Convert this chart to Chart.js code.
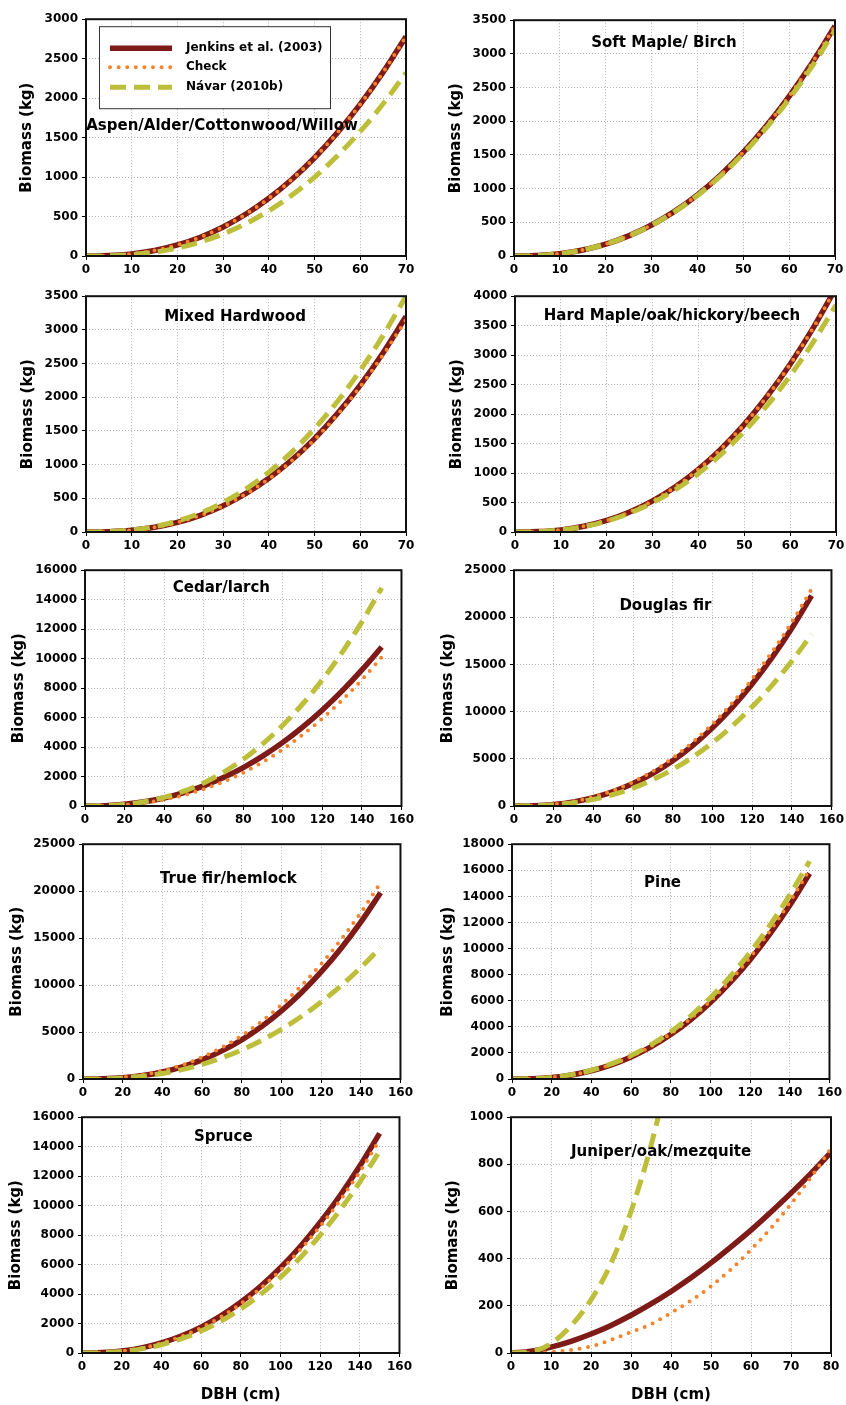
<!DOCTYPE html>
<html>
<head>
<meta charset="utf-8">
<script src="https://cdn.jsdelivr.net/npm/chart.js@4.4.1/dist/chart.umd.min.js"></script>
<style>
  body { margin: 0; background: #fff; width: 846px; height: 1405px; position: relative; overflow: hidden; }
  canvas { position: absolute; }
</style>
</head>
<body>
<script>
// DBH (cm) sample points
const dbhSmall = [0, 5, 10, 15, 20, 25, 30, 35, 40, 45, 50, 55, 60, 65, 70];
const dbhLarge = [0, 10, 20, 30, 40, 50, 60, 70, 80, 90, 100, 110, 120, 130, 140, 150];
const dbhJuniper = [0, 5, 10, 15, 20, 25, 30, 35, 40, 45, 50, 55, 60, 65, 70, 75, 80];
const dbhJuniperNavar = [0, 5, 10, 15, 20, 25, 30, 35, 40];

const seriesLabels = ['Jenkins et al. (2003)', 'Check', 'Návar (2010b)'];

// Biomass (kg)
const aspenJenkins = [0, 5.1, 26.7, 70.3, 139.8, 238, 368, 532, 731, 969, 1245, 1563, 1924, 2329, 2780];
const aspenCheck   = [0, 5.1, 26.7, 70.3, 139.8, 238, 368, 532, 731, 969, 1245, 1563, 1924, 2329, 2780];
const aspenNavar   = [0, 3.2, 17.9, 49, 101, 177, 279, 410, 573, 769, 1000, 1270, 1578, 1928, 2320];

const softJenkins = [0, 6.6, 34.2, 89.3, 176, 299, 460, 662, 908, 1200, 1540, 1929, 2370, 2864, 3413];
const softCheck   = [0, 6.6, 34.2, 89.3, 176, 299, 460, 662, 908, 1200, 1540, 1929, 2370, 2864, 3413];
const softNavar   = [0, 6.8, 34.6, 89.7, 176, 298, 457, 657, 899, 1186, 1519, 1900, 2332, 2815, 3350];

const mixedJenkins = [0, 4.6, 25.5, 69.8, 142.6, 248, 390, 572, 797, 1068, 1387, 1758, 2181, 2662, 3199];
const mixedCheck   = [0, 4.6, 25.4, 69.5, 142, 246, 387, 567, 789, 1055, 1372, 1740, 2158, 2630, 3150];
const mixedNavar   = [0, 5.4, 29.8, 80, 163, 281, 439, 641, 889, 1186, 1535, 1938, 2399, 2919, 3500];

const hardJenkins = [0, 6.7, 36.3, 97.4, 196, 338, 527, 766, 1061, 1413, 1826, 2303, 2846, 3458, 4142];
const hardCheck   = [0, 6.7, 36.3, 97.4, 196, 338, 527, 766, 1061, 1413, 1826, 2303, 2846, 3458, 4142];
const hardNavar   = [0, 6.5, 34.7, 92.6, 186, 319, 496, 720, 994, 1322, 1706, 2148, 2651, 3218, 3850];

const cedarJenkins = [0, 23.8, 114, 284, 545, 902, 1362, 1928, 2608, 3403, 4317, 5354, 6518, 7809, 9233, 10790];
const cedarCheck   = [0, 16, 84, 219, 435, 739, 1141, 1646, 2262, 2995, 3848, 4827, 5939, 7184, 8571, 10100];
const cedarNavar   = [0, 19.4, 106, 287, 580, 1003, 1568, 2288, 3173, 4234, 5481, 6922, 8568, 10424, 12497, 14800];

const douglasJenkins = [0, 29.8, 162, 437, 883, 1523, 2378, 3465, 4801, 6405, 8284, 10454, 12935, 15726, 18848, 22310];
const douglasCheck   = [0, 34.6, 183, 483, 964, 1647, 2551, 3694, 5088, 6751, 8692, 10925, 13464, 16316, 19490, 23000];
const douglasNavar   = [0, 23.3, 128, 347, 705, 1220, 1903, 2792, 3877, 5179, 6712, 8485, 10512, 12800, 15359, 18200];

const firJenkins = [0, 23.9, 134, 366, 746, 1298, 2041, 2993, 4169, 5582, 7250, 9185, 11400, 13903, 16709, 19830];
const firCheck   = [0, 31.4, 166, 439, 876, 1496, 2318, 3357, 4623, 6134, 7898, 9928, 12235, 14826, 17711, 20900];
const firNavar   = [0, 21.1, 111, 294, 587, 1002, 1553, 2248, 3097, 4109, 5291, 6650, 8196, 9932, 11864, 14000];

const pineJenkins = [0, 21.5, 117, 313, 630, 1085, 1692, 2462, 3408, 4541, 5869, 7401, 9149, 11116, 13315, 15750];
const pineCheck   = [0, 21.9, 119, 319, 643, 1107, 1726, 2511, 3476, 4632, 5986, 7549, 9332, 11338, 13581, 16065];
const pineNavar   = [0, 23.2, 125, 334, 673, 1157, 1802, 2621, 3625, 4827, 6234, 7859, 9711, 11795, 14122, 16700];

const spruceJenkins = [0, 26.9, 136, 349, 683, 1149, 1758, 2520, 3439, 4527, 5787, 7228, 8855, 10671, 12686, 14900];
const spruceCheck   = [0, 26.1, 132, 339, 663, 1115, 1705, 2444, 3336, 4391, 5613, 7011, 8589, 10351, 12305, 14450];
const spruceNavar   = [0, 19.5, 105, 279, 559, 960, 1492, 2166, 2992, 3980, 5135, 6466, 7984, 9690, 11593, 13700];

const juniperJenkins = [0, 7.6, 24.7, 49.2, 80.3, 117, 160, 208, 261, 319, 382, 450, 521, 598, 678, 762, 851];
const juniperCheck   = [0, 0, 4, 13, 28, 56, 89, 122, 170, 222, 283, 355, 438, 530, 632, 745, 868];
const juniperNavar   = [0, 5, 40, 115, 225, 380, 600, 880, 1230];

// panel layout: plot box [left, top, right, bottom] in page px, y-title centre x, title position as fraction of plot
const panels = [
  { title: 'Aspen/Alder/Cottonwood/Willow', x: dbhSmall, jen: aspenJenkins, chk: aspenCheck, nav: aspenNavar,
    xMax: 70, xStep: 10, yMax: 3000, yStep: 500, box: [86, 18, 406, 256], yTitleX: 27, tPos: [0.425, 0.45], legend: true },
  { title: 'Soft Maple/ Birch', x: dbhSmall, jen: softJenkins, chk: softCheck, nav: softNavar,
    xMax: 70, xStep: 10, yMax: 3500, yStep: 500, box: [514, 19, 835, 256], yTitleX: 456, tPos: [0.467, 0.097] },
  { title: 'Mixed Hardwood', x: dbhSmall, jen: mixedJenkins, chk: mixedCheck, nav: mixedNavar,
    xMax: 70, xStep: 10, yMax: 3500, yStep: 500, box: [86, 295, 406, 532], yTitleX: 28, tPos: [0.466, 0.089] },
  { title: 'Hard Maple/oak/hickory/beech', x: dbhSmall, jen: hardJenkins, chk: hardCheck, nav: hardNavar,
    xMax: 70, xStep: 10, yMax: 4000, yStep: 500, box: [515, 295, 836, 532], yTitleX: 457, tPos: [0.489, 0.084] },
  { title: 'Cedar/larch', x: dbhLarge, jen: cedarJenkins, chk: cedarCheck, nav: cedarNavar,
    xMax: 160, xStep: 20, yMax: 16000, yStep: 2000, box: [85, 569, 405, 806], yTitleX: 19, tPos: [0.431, 0.076] },
  { title: 'Douglas fir', x: dbhLarge, jen: douglasJenkins, chk: douglasCheck, nav: douglasNavar,
    xMax: 160, xStep: 20, yMax: 25000, yStep: 5000, box: [514, 569, 835, 806], yTitleX: 448, tPos: [0.477, 0.152] },
  { title: 'True fir/hemlock', x: dbhLarge, jen: firJenkins, chk: firCheck, nav: firNavar,
    xMax: 160, xStep: 20, yMax: 25000, yStep: 5000, box: [83, 843, 404, 1079], yTitleX: 17, tPos: [0.458, 0.148] },
  { title: 'Pine', x: dbhLarge, jen: pineJenkins, chk: pineCheck, nav: pineNavar,
    xMax: 160, xStep: 20, yMax: 18000, yStep: 2000, box: [512, 843, 833, 1079], yTitleX: 448, tPos: [0.474, 0.165] },
  { title: 'Spruce', x: dbhLarge, jen: spruceJenkins, chk: spruceCheck, nav: spruceNavar,
    xMax: 160, xStep: 20, yMax: 16000, yStep: 2000, box: [82, 1116, 403, 1353], yTitleX: 16, tPos: [0.445, 0.084], bottom: true },
  { title: 'Juniper/oak/mezquite', x: dbhJuniper, xNav: dbhJuniperNavar, jen: juniperJenkins, chk: juniperCheck, nav: juniperNavar,
    xMax: 80, xStep: 10, yMax: 1000, yStep: 200, box: [511, 1116, 831, 1353], yTitleX: 453, tPos: [0.469, 0.148], bottom: true }
];

const RED = '#7e1a17';
const ORANGE = '#f5842c';
const GREEN = '#bdbe3a';
const GRID = '#b0b0b0';
const FAMILY = '"DejaVu Sans", "Liberation Sans", sans-serif';

Chart.defaults.font.family = FAMILY;
Chart.defaults.color = '#000';

function pts(xs, ys) {
  return ys.map((y, i) => ({ x: xs[i], y: y }));
}

const lineStyles = [
  { color: RED, width: 5.5, dash: [], cap: 'butt' },
  { color: ORANGE, width: 4, dash: [0, 8.6], cap: 'round' },
  { color: GREEN, width: 5, dash: [16, 8], cap: 'butt' }
];

// frame, in-plot title and legend
const panelDecor = {
  id: 'panelDecor',
  afterDatasetsDraw(chart, args, opts) {
    const { ctx, chartArea: a } = chart;
    ctx.save();
    ctx.strokeStyle = '#111';
    ctx.lineWidth = 2;
    ctx.setLineDash([]);
    ctx.strokeRect(a.left, a.top, a.right - a.left, a.bottom - a.top);

    ctx.fillStyle = '#000';
    ctx.font = 'bold 15px ' + FAMILY;
    ctx.textAlign = 'center';
    ctx.textBaseline = 'middle';
    ctx.fillText(opts.title, a.left + opts.tPos[0] * (a.right - a.left), a.top + opts.tPos[1] * (a.bottom - a.top));

    if (opts.legend) {
      const bx = a.left + 13, by = a.top + 7;
      ctx.fillStyle = '#fff';
      ctx.fillRect(bx, by, 231, 82);
      ctx.strokeStyle = '#333';
      ctx.lineWidth = 1;
      ctx.strokeRect(bx + 0.5, by + 0.5, 231, 82);
      const rows = [29, 48, 68];
      ctx.font = 'bold 12px ' + FAMILY;
      ctx.textAlign = 'left';
      seriesLabels.forEach((lab, i) => {
        const s = lineStyles[i];
        const y = a.top + rows[i];
        ctx.beginPath();
        ctx.strokeStyle = s.color;
        ctx.lineWidth = s.width;
        ctx.lineCap = s.cap;
        ctx.setLineDash(s.dash);
        ctx.moveTo(a.left + 24, y);
        ctx.lineTo(a.left + 86, y);
        ctx.stroke();
        ctx.setLineDash([]);
        ctx.fillStyle = '#000';
        ctx.fillText(lab, a.left + 100, y);
      });
    }
    ctx.restore();
  }
};

panels.forEach((p) => {
  const [L, T, R, B] = p.box;
  const cx = p.yTitleX - 9;
  const yW = L - cx;
  const xH = p.bottom ? 51 : 24;
  const canvas = document.createElement('canvas');
  canvas.width = R - cx + 12;
  canvas.height = 10 + (B - T) + xH;
  canvas.style.left = cx + 'px';
  canvas.style.top = (T - 10) + 'px';
  document.body.appendChild(canvas);

  const sets = [p.jen, p.chk, p.nav].map((ys, i) => ({
    label: seriesLabels[i],
    data: pts(i === 2 && p.xNav ? p.xNav : p.x, ys),
    borderColor: lineStyles[i].color,
    borderWidth: lineStyles[i].width,
    borderDash: lineStyles[i].dash,
    borderCapStyle: lineStyles[i].cap,
    order: 3 - i
  }));

  new Chart(canvas, {
    type: 'line',
    data: { datasets: sets },
    options: {
      responsive: false,
      animation: false,
      events: [],
      elements: {
        point: { radius: 0 },
        line: { cubicInterpolationMode: 'monotone', fill: false }
      },
      layout: { padding: { top: 10, right: 12, left: 0, bottom: 0 } },
      plugins: {
        legend: { display: false },
        tooltip: { enabled: false },
        panelDecor: { title: p.title, tPos: p.tPos, legend: !!p.legend }
      },
      scales: {
        x: {
          type: 'linear',
          min: 0,
          max: p.xMax,
          ticks: { stepSize: p.xStep, autoSkip: false, maxRotation: 0, color: '#000',
                   font: { size: 12, weight: 'bold' }, padding: 3 },
          grid: { color: GRID, lineWidth: 1, tickColor: '#000', tickLength: 4, tickWidth: 1, tickBorderDash: [] },
          border: { display: false, dash: [1, 2] },
          title: { display: !!p.bottom, text: 'DBH (cm)', color: '#000',
                   font: { size: 15, weight: 'bold' }, padding: 0 },
          afterFit(s) { s.height = xH; }
        },
        y: {
          type: 'linear',
          min: 0,
          max: p.yMax,
          ticks: { stepSize: p.yStep, color: '#000', font: { size: 12, weight: 'bold' }, padding: 4,
                   callback: (v) => String(v) },
          grid: { color: GRID, lineWidth: 1, tickColor: '#000', tickLength: 4, tickWidth: 1, tickBorderDash: [] },
          border: { display: false, dash: [1, 2] },
          title: { display: true, text: 'Biomass (kg)', color: '#000',
                   font: { size: 15, weight: 'bold' }, padding: 0 },
          afterFit(s) { s.width = yW; }
        }
      }
    },
    plugins: [panelDecor]
  });
});
</script>
</body>
</html>
